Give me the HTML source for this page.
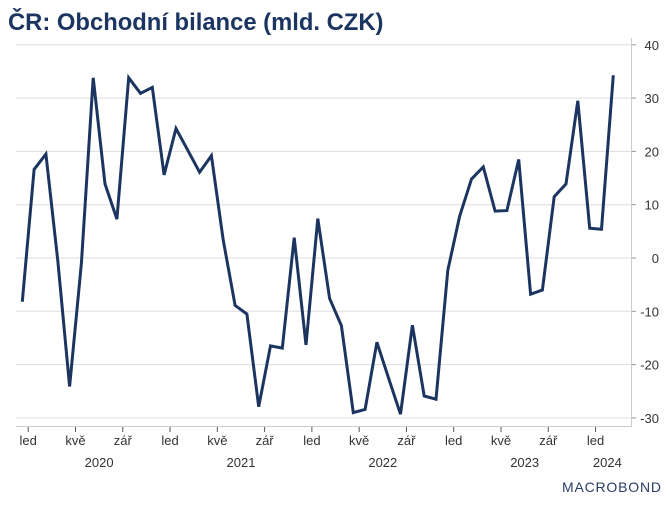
<!DOCTYPE html>
<html><head><meta charset="utf-8"><style>
body{margin:0;background:#fff;}
svg text{font-family:"Liberation Sans",sans-serif;}
</style></head><body>
<svg id="chart" width="670" height="502" viewBox="0 0 670 502">
<text x="8" y="30" font-size="23.8" font-weight="bold" fill="#1c3560">ČR: Obchodní bilance (mld. CZK)</text>
<g id="grid"></g>
<g id="axes"></g>
<path id="line" fill="none" stroke="#1c3560" stroke-width="3" stroke-linejoin="miter"></path>
<g>
<text x="562" y="492" font-size="14" fill="#2a3d66" letter-spacing="0.8">MACROBOND</text>
</g>
</svg>
<script>
const values=[-8.2,16.6,19.5,-0.5,-24.1,-1.0,33.8,13.9,7.3,33.8,30.9,32.0,15.6,24.3,20.2,16.1,19.2,3.4,-8.9,-10.5,-27.9,-16.5,-16.9,3.8,-16.3,7.4,-7.6,-12.7,-29.0,-28.4,-15.8,-22.6,-29.3,-12.6,-25.9,-26.5,-2.3,7.8,14.8,17.1,8.8,8.9,18.5,-6.8,-6.0,11.5,13.9,29.5,5.6,5.4,34.3];
const yTicks=[40,30,20,10,0,-10,-20,-30];
const monthLabels=["led","kvě","zář"];
const years=["2020","2021","2022","2023","2024"];
const NS="http://www.w3.org/2000/svg";
const X0=22.3, STEP=11.82;
function x(i){return X0+i*STEP;}
function y(v){return 258-v*5.33;}
const grid=document.getElementById('grid'), axes=document.getElementById('axes');
function mk(tag,attrs,parent){const e=document.createElementNS(NS,tag);for(const k in attrs)e.setAttribute(k,attrs[k]);parent.appendChild(e);return e;}
yTicks.forEach(v=>{
  const l=mk('line',{x1:16,x2:631,y1:y(v),y2:y(v),stroke:'#dddddd','stroke-width':1},grid);
  
  
  mk('line',{x1:631,x2:636,y1:y(v),y2:y(v),stroke:'#999','stroke-width':1},axes);
  const t=mk('text',{x:659,y:y(v)+5,'font-size':13,fill:'#333','text-anchor':'end'},axes);
  t.textContent=v;
  
  
});
const ya=mk('line',{x1:631.5,x2:631.5,y1:38,y2:427,stroke:'#cccccc','stroke-width':1},axes);


const xa=mk('line',{x1:16,x2:631,y1:426.5,y2:426.5,stroke:'#cccccc','stroke-width':1},axes);


for(let m=0;m<values.length;m+=4){
  const tx=x(m)+STEP/2;
  mk('line',{x1:tx,x2:tx,y1:427,y2:432,stroke:'#555','stroke-width':1},axes);
  const t=mk('text',{x:tx,y:445,'font-size':13,fill:'#333','text-anchor':'middle'},axes);
  t.textContent=monthLabels[(m/4)%3];
  
  
}
years.forEach((yr,i)=>{
  const t=mk('text',{x:x(i*12)+STEP*6.5,y:467,'font-size':13,fill:'#333','text-anchor':'middle'},axes);
  if(i===years.length-1) t.setAttribute('x',x(i*12)+STEP*1.5);
  t.textContent=yr;
  
  
});
document.getElementById('line').setAttribute('d',values.map((v,i)=>(i?'L':'M')+x(i).toFixed(1)+','+y(v).toFixed(1)).join(' '));
</script>
</body></html>
